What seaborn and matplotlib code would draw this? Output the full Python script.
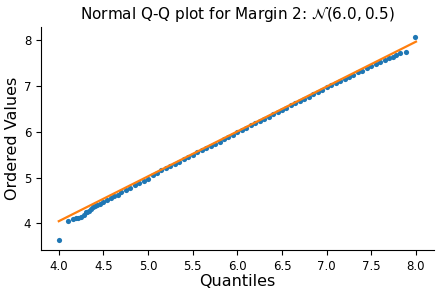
import numpy as np
import pandas as pd
import matplotlib
matplotlib.use("Agg")
import matplotlib.pyplot as plt
import seaborn as sns

# theoretical quantiles (x) and ordered sample values (y)
quantiles = [
    4.00, 4.10, 4.16, 4.19, 4.22, 4.25, 4.28, 4.30, 4.32, 4.34, 4.36, 4.38,
    4.40, 4.43, 4.46, 4.50, 4.54, 4.58, 4.62, 4.66, 4.70, 4.75, 4.80, 4.85,
    4.90, 4.95, 5.00, 5.05, 5.10, 5.15, 5.20, 5.25, 5.30, 5.35, 5.40, 5.45,
    5.50, 5.55, 5.60, 5.65, 5.70, 5.75, 5.80, 5.85, 5.90, 5.95, 6.00, 6.05,
    6.10, 6.15, 6.20, 6.25, 6.30, 6.35, 6.40, 6.45, 6.50, 6.55, 6.60, 6.65,
    6.70, 6.75, 6.80, 6.85, 6.90, 6.95, 7.00, 7.05, 7.10, 7.15, 7.20, 7.25,
    7.30, 7.35, 7.40, 7.45, 7.50, 7.55, 7.60, 7.65, 7.70, 7.74, 7.78, 7.82,
    7.89, 7.99,
]
ordered_values = [
    3.64, 4.06, 4.09, 4.11, 4.13, 4.15, 4.18, 4.24, 4.25, 4.27, 4.32, 4.35,
    4.38, 4.41, 4.43, 4.47, 4.51, 4.55, 4.59, 4.63, 4.68, 4.73, 4.78, 4.83,
    4.88, 4.93, 4.98, 5.06, 5.11, 5.16, 5.21, 5.25, 5.30, 5.35, 5.40, 5.45,
    5.50, 5.55, 5.60, 5.65, 5.70, 5.74, 5.79, 5.84, 5.89, 5.94, 5.99, 6.04,
    6.09, 6.14, 6.19, 6.24, 6.28, 6.33, 6.38, 6.43, 6.48, 6.53, 6.58, 6.63,
    6.68, 6.72, 6.77, 6.82, 6.87, 6.92, 6.97, 7.02, 7.07, 7.11, 7.15, 7.20,
    7.25, 7.30, 7.34, 7.39, 7.43, 7.48, 7.52, 7.56, 7.61, 7.64, 7.68, 7.72,
    7.74, 8.07,
]

# least squares reference line end points
fit_x = [4.00, 8.00]
fit_y = [4.05, 7.97]

df = pd.DataFrame({"q": quantiles, "v": ordered_values})
fit = pd.DataFrame({"q": fit_x, "v": fit_y})

fig = plt.figure(figsize=(4.4, 2.96), dpi=100)
ax = fig.add_axes([0.093, 0.155, 0.893, 0.754])

sns.scatterplot(data=df, x="q", y="v", color="C0", s=14, linewidth=0, ax=ax)
sns.lineplot(data=fit, x="q", y="v", color="C1", linewidth=1.6, ax=ax)

ax.set_title(r"Normal Q-Q plot for Margin 2: $\mathcal{N}(6.0, 0.5)$", fontsize=11)
ax.set_xlabel("Quantiles", fontsize=11.5, labelpad=1)
ax.set_ylabel("Ordered Values", fontsize=11.5, labelpad=3)
ax.set_xticks([4.0, 4.5, 5.0, 5.5, 6.0, 6.5, 7.0, 7.5, 8.0])
ax.set_yticks([4, 5, 6, 7, 8])
ax.tick_params(labelsize=8.5)
sns.despine(ax=ax)

fig.savefig("out.png", dpi=100)
